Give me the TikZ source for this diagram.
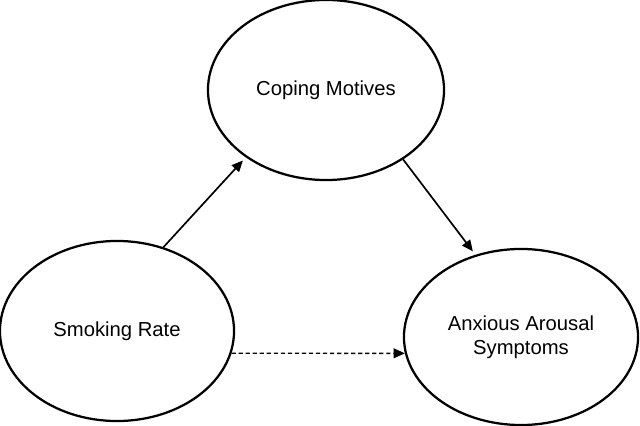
\documentclass[tikz,border=0pt]{standalone}
\usepackage{fontspec}
\setmainfont{Liberation Sans}
\usetikzlibrary{arrows.meta,shapes.geometric}

\begin{document}
\begin{tikzpicture}[x=0.025cm,y=-0.025cm,
  font=\fontsize{14.4}{17}\selectfont,
  var/.style={draw,ellipse,line width=1.6pt,inner sep=0pt,align=center},
  arr/.style={-{Triangle[length=8pt,width=7pt]},line width=1.2pt}]
  \useasboundingbox (0,0) rectangle (640,426);
  % The three variables of the mediation model.
  \node[var,minimum width=5.9cm,minimum height=4.5cm] (cm) at (326,90) {Coping Motives};
  \node[var,minimum width=5.85cm,minimum height=4.5cm] (sr) at (117,331) {Smoking Rate};
  \node[var,minimum width=5.85cm,minimum height=4.4cm] (aa) at (521,337)
    {Anxious Arousal\\Symptoms};
  % Indirect paths, then the direct one dashed.
  \draw[arr,shorten >=3pt] (sr.61) -- (cm.220);
  \draw[arr,shorten >=3pt] (cm.318) -- (aa.119);
  \draw[arr,line width=1pt,dash pattern=on 3pt off 2pt] (sr.-11) -- (aa.188);
\end{tikzpicture}
\end{document}
